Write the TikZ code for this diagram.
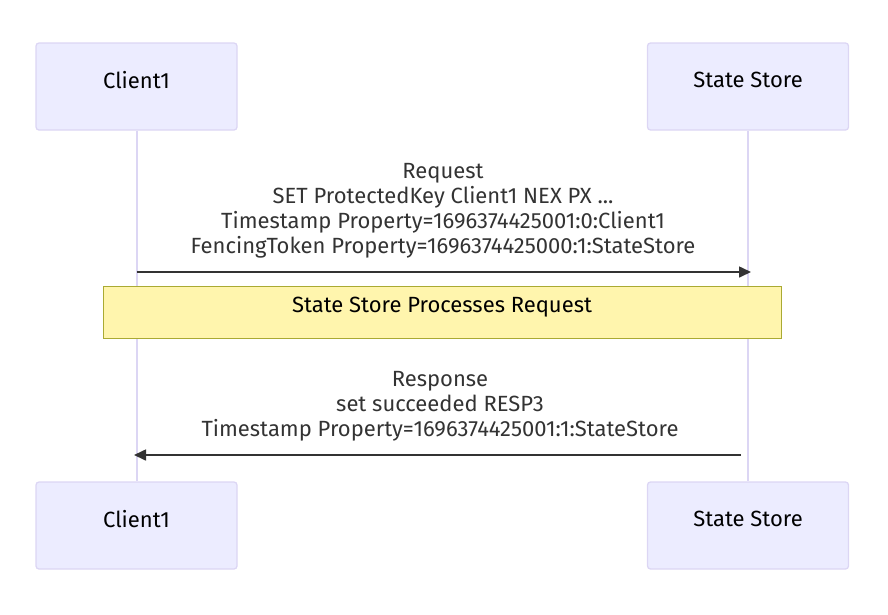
\documentclass[tikz,border=0pt]{standalone}
\usepackage{fontspec}
\setmainfont{Fira Sans}
\usetikzlibrary{arrows.meta}
\definecolor{actfill}{HTML}{ECECFF}
\definecolor{actdraw}{HTML}{DCD6F4}
\definecolor{notefill}{HTML}{FFF5AD}
\definecolor{notedraw}{HTML}{AAAA33}
\definecolor{msg}{HTML}{333333}
\tikzset{
  actor/.style={draw=actdraw, fill=actfill, line width=1.3pt, rounded corners=3pt, minimum width=201pt, minimum height=87pt, inner sep=0pt},
  lbl/.style={font=\fontsize{22}{25}\selectfont, text=black, inner sep=0pt},
  life/.style={draw=actdraw, line width=2pt},
  msgline/.style={draw=msg, line width=1.6pt, -{Triangle[length=12pt,width=11pt]}},
  msgtext/.style={align=center, font=\fontsize{22}{25}\selectfont, text=msg, inner sep=0pt},
  notebox/.style={draw=notedraw, fill=notefill, line width=1pt, minimum width=678pt, minimum height=52pt, inner sep=0pt}
}
\begin{document}
\begin{tikzpicture}[x=1pt,y=-1pt]
\useasboundingbox (0,0) rectangle (888,614);
\node[actor] (c1t) at (136.5,86.5) {};
\node[actor] (sst) at (748,86.5) {};
\node[actor] (c1b) at (136.5,525.5) {};
\node[actor] (ssb) at (748,525.5) {};
\node[lbl] (c1tl) at (136.5,80) {Client1};
\node[lbl] (sstl) at (748,80) {State Store};
\node[lbl] (c1bl) at (136.5,519) {Client1};
\node[lbl] (ssbl) at (748,519) {State Store};
\draw[life] (c1t.south) -- (c1b.north);
\draw[life] (sst.south) -- (ssb.north);
\coordinate (a1s) at (c1t.south |- 0,272);
\coordinate (a1e) at (751,272);
\draw[msgline] (a1s) -- (a1e);
\node[msgtext] (m1) at (443,210.5) {Request\\SET ProtectedKey Client1 NEX PX ...\\Timestamp Property=1696374425001:0:Client1\\FencingToken Property=1696374425000:1:StateStore};
\node[notebox] (note) at (442,312) {};
\node[lbl] (notel) at (442,307.5) {State Store Processes Request};
\coordinate (a2s) at (741,455);
\coordinate (a2e) at (134,455);
\draw[msgline] (a2s) -- (a2e);
\node[msgtext] (m2) at (440,406) {Response\\set succeeded RESP3\\Timestamp Property=1696374425001:1:StateStore};
\end{tikzpicture}
\end{document}
